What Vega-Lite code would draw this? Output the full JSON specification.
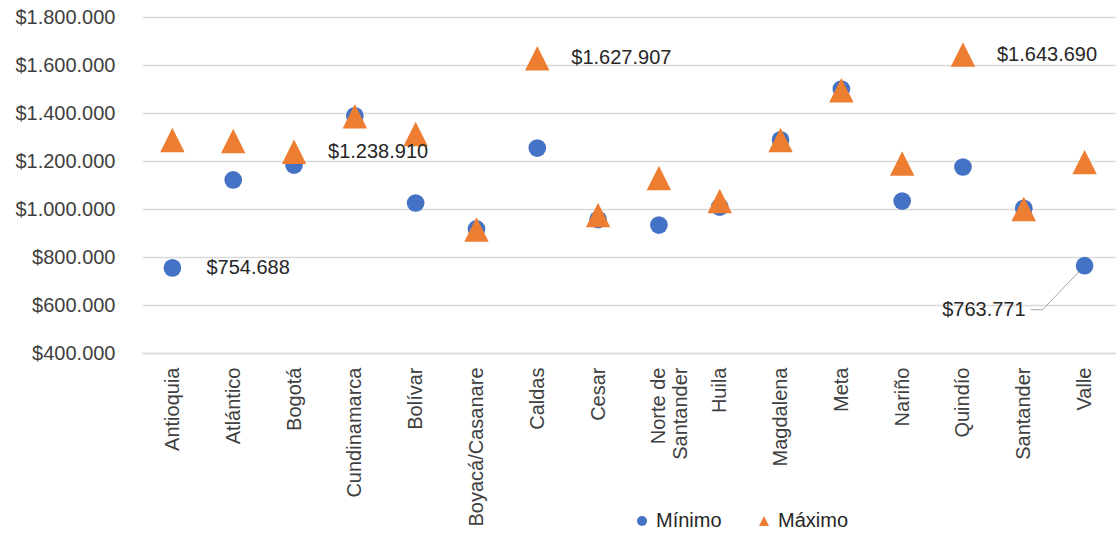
{
  "$schema": "https://vega.github.io/schema/vega-lite/v6.json",
  "width": 973,
  "height": 336,
  "autosize": {"type": "none"},
  "padding": {"left": 142, "top": 17, "right": 5, "bottom": 186},
  "background": "white",
  "data": {
    "values": [
      {"depto": "Antioquia", "serie": "Mínimo", "valor": 754688},
      {"depto": "Atlántico", "serie": "Mínimo", "valor": 1121000},
      {"depto": "Bogotá", "serie": "Mínimo", "valor": 1183000},
      {"depto": "Cundinamarca", "serie": "Mínimo", "valor": 1388000},
      {"depto": "Bolívar", "serie": "Mínimo", "valor": 1025000},
      {"depto": "Boyacá/Casanare", "serie": "Mínimo", "valor": 917000},
      {"depto": "Caldas", "serie": "Mínimo", "valor": 1254000},
      {"depto": "Cesar", "serie": "Mínimo", "valor": 956000},
      {"depto": "Norte de Santander", "serie": "Mínimo", "valor": 933000},
      {"depto": "Huila", "serie": "Mínimo", "valor": 1008000},
      {"depto": "Magdalena", "serie": "Mínimo", "valor": 1288000},
      {"depto": "Meta", "serie": "Mínimo", "valor": 1500000},
      {"depto": "Nariño", "serie": "Mínimo", "valor": 1033000},
      {"depto": "Quindío", "serie": "Mínimo", "valor": 1175000},
      {"depto": "Santander", "serie": "Mínimo", "valor": 1003000},
      {"depto": "Valle", "serie": "Mínimo", "valor": 763771},
      {"depto": "Antioquia", "serie": "Máximo", "valor": 1288000},
      {"depto": "Atlántico", "serie": "Máximo", "valor": 1283000},
      {"depto": "Bogotá", "serie": "Máximo", "valor": 1238910},
      {"depto": "Cundinamarca", "serie": "Máximo", "valor": 1386000},
      {"depto": "Bolívar", "serie": "Máximo", "valor": 1312000},
      {"depto": "Boyacá/Casanare", "serie": "Máximo", "valor": 915000},
      {"depto": "Caldas", "serie": "Máximo", "valor": 1627907},
      {"depto": "Cesar", "serie": "Máximo", "valor": 975000},
      {"depto": "Norte de Santander", "serie": "Máximo", "valor": 1129000},
      {"depto": "Huila", "serie": "Máximo", "valor": 1033000},
      {"depto": "Magdalena", "serie": "Máximo", "valor": 1288000},
      {"depto": "Meta", "serie": "Máximo", "valor": 1495000},
      {"depto": "Nariño", "serie": "Máximo", "valor": 1190000},
      {"depto": "Quindío", "serie": "Máximo", "valor": 1643690},
      {"depto": "Santander", "serie": "Máximo", "valor": 1000000},
      {"depto": "Valle", "serie": "Máximo", "valor": 1196000}
    ]
  },
  "encoding": {
    "x": {
      "field": "depto",
      "type": "nominal",
      "sort": null,
      "scale": {
        "type": "point",
        "padding": 0.5,
        "domain": ["Antioquia", "Atlántico", "Bogotá", "Cundinamarca", "Bolívar", "Boyacá/Casanare", "Caldas", "Cesar", "Norte de Santander", "Huila", "Magdalena", "Meta", "Nariño", "Quindío", "Santander", "Valle"]
      },
      "axis": {
        "title": null,
        "labelAngle": -90,
        "labelFontSize": 20,
        "labelFont": "Liberation Sans",
        "labelColor": "#404040",
        "labelPadding": 14,
        "labelLineHeight": 22,
        "labelExpr": "datum.label == 'Norte de Santander' ? ['Norte de', 'Santander'] : datum.label",
        "ticks": false,
        "tickSize": 0,
        "domainColor": "#D9D9D9",
        "domainWidth": 1.3,
        "grid": false,
        "labelOverlap": false
      }
    },
    "y": {
      "field": "valor",
      "type": "quantitative",
      "scale": {"domain": [400000, 1800000], "nice": false, "zero": false},
      "axis": {
        "title": null,
        "values": [400000, 600000, 800000, 1000000, 1200000, 1400000, 1600000, 1800000],
        "labelExpr": "'$' + replace(format(datum.value, ',.0f'), regexp(',', 'g'), '.')",
        "labelFontSize": 20,
        "labelFont": "Liberation Sans",
        "labelColor": "#404040",
        "labelPadding": 27,
        "ticks": false,
        "tickSize": 0,
        "domain": false,
        "grid": true,
        "gridColor": "#D9D9D9",
        "gridWidth": 1.3
      }
    }
  },
  "layer": [
    {
      "transform": [{"filter": "datum.depto == 'Valle' && datum.serie == 'Mínimo'"}],
      "mark": {"type": "rule", "color": "#A6A6A6", "strokeWidth": 1, "x2Offset": -42, "y2Offset": 44},
      "encoding": {
        "x2": {"field": "depto"},
        "y2": {"field": "valor"}
      }
    },
    {
      "transform": [{"filter": "datum.depto == 'Valle' && datum.serie == 'Mínimo'"}],
      "mark": {"type": "rule", "color": "#A6A6A6", "strokeWidth": 1, "xOffset": -42, "x2Offset": -54, "yOffset": 44, "y2Offset": 44},
      "encoding": {
        "x2": {"field": "depto"},
        "y2": {"field": "valor"}
      }
    },
    {
      "transform": [{"filter": "datum.serie == 'Mínimo'"}],
      "mark": {"type": "point", "filled": true, "opacity": 1, "size": 314},
      "encoding": {
        "color": {
          "field": "serie",
          "type": "nominal",
          "scale": {"domain": ["Mínimo", "Máximo"], "range": ["#4472C4", "#ED7D31"]},
          "legend": {
            "title": null,
            "orient": "none",
            "direction": "horizontal",
            "legendX": 490,
            "legendY": 494,
            "labelFontSize": 20,
            "labelFont": "Liberation Sans",
            "labelColor": "#262626",
            "symbolSize": 100,
            "symbolOpacity": 1,
            "labelOffset": 4,
            "columnPadding": 32
          }
        },
        "shape": {
          "field": "serie",
          "type": "nominal",
          "scale": {"domain": ["Mínimo", "Máximo"], "range": ["circle", "M0,-1L1,1L-1,1Z"]}
        }
      }
    },
    {
      "transform": [{"filter": "datum.serie == 'Máximo'"}],
      "mark": {"type": "point", "filled": true, "opacity": 1, "size": 600},
      "encoding": {
        "color": {"field": "serie", "type": "nominal"},
        "shape": {"field": "serie", "type": "nominal"}
      }
    },
    {
      "transform": [
        {"filter": "(datum.depto == 'Antioquia' && datum.serie == 'Mínimo') || (datum.serie == 'Máximo' && (datum.depto == 'Bogotá' || datum.depto == 'Caldas' || datum.depto == 'Quindío'))"},
        {"calculate": "'$' + replace(format(datum.valor, ',.0f'), regexp(',', 'g'), '.')", "as": "etiqueta"}
      ],
      "mark": {"type": "text", "align": "left", "baseline": "middle", "dx": 34, "fontSize": 20, "font": "Liberation Sans", "color": "#262626"},
      "encoding": {"text": {"field": "etiqueta"}}
    },
    {
      "transform": [
        {"filter": "datum.depto == 'Valle' && datum.serie == 'Mínimo'"},
        {"calculate": "'$' + replace(format(datum.valor, ',.0f'), regexp(',', 'g'), '.')", "as": "etiqueta"}
      ],
      "mark": {"type": "text", "align": "right", "baseline": "middle", "dx": -59, "dy": 44, "fontSize": 20, "font": "Liberation Sans", "color": "#262626"},
      "encoding": {"text": {"field": "etiqueta"}}
    }
  ],
  "config": {"view": {"stroke": null}}
}
